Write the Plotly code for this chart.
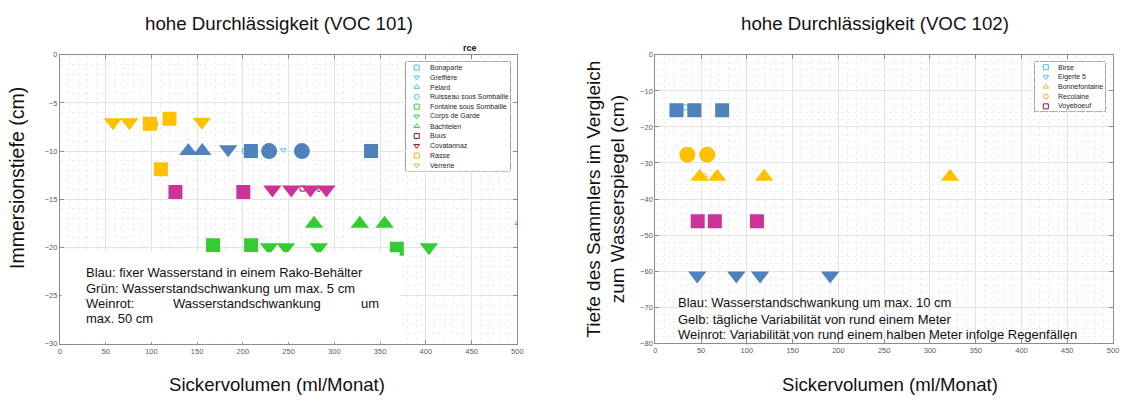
import plotly.graph_objects as go

W, H = 1126, 401
FONT = "Liberation Sans, Arial, sans-serif"

# ---------------- data: left chart (VOC 101) ----------------
L_blue_sq_x = [208.8, 340.1];            L_blue_sq_y = [-10.0, -10.0]
L_blue_circ_x = [228.7, 264.5];          L_blue_circ_y = [-10.0, -10.0]
L_blue_tup_x = [140.4, 155.6];           L_blue_tup_y = [-10.0, -10.0]
L_blue_tdn_x = [183.9];                  L_blue_tdn_y = [-9.8]
L_yel_sq_x = [98.4, 119.8, 110.4];       L_yel_sq_y = [-7.15, -6.65, -11.9]
L_yel_tdn_x = [58.0, 76.0, 155.2];       L_yel_tdn_y = [-7.0, -7.0, -6.95]
L_mag_sq_x = [126.3, 200.5];             L_mag_sq_y = [-14.25, -14.25]
L_mag_tdn_x = [232.3, 252.9, 273.9, 291.3]; L_mag_tdn_y = [-14.0, -14.0, -14.0, -14.0]
L_grn_sq_x = [167.4, 209.0, 368.3];      L_grn_sq_y = [-19.8, -19.8, -20.15]
L_grn_tup_x = [277.8, 327.8, 354.9];     L_grn_tup_y = [-17.55, -17.55, -17.55]
L_grn_tdn_x = [228.7, 247.0, 283.0, 403.4]; L_grn_tdn_y = [-20.0, -20.0, -20.0, -20.0]

L_names = ["Bonaparte", "Greffière", "Pélard", "Ruisseau sous Sombaille",
           "Fontaine sous Sombaille", "Corps de Garde", "Bachtelen", "Buus",
           "Covatannaz", "Rasse", "Verrerie"]
L_series_x = [
    [202.6, 208.8, 340.1],
    [244.2, 183.9],
    [140.4, 155.6],
    [228.7, 264.5],
    [167.4, 209.0, 368.3],
    [228.7, 247.0, 283.0, 403.4],
    [277.8, 327.8, 354.9, 500.5],
    [126.3, 200.5, 265.2],
    [232.3, 252.9, 273.9, 283.0, 291.3],
    [98.4, 104.0, 119.8, 110.4],
    [58.0, 76.0, 155.2],
]
L_series_y = [
    [-10.0, -10.0, -10.0],
    [-9.9, -9.8],
    [-10.0, -10.0],
    [-10.0, -10.0],
    [-19.8, -19.8, -20.15],
    [-20.0, -20.0, -20.0, -20.0],
    [-17.55, -17.55, -17.55, -17.5],
    [-14.25, -14.25, -13.9],
    [-14.0, -14.0, -14.0, -14.0, -14.0],
    [-7.15, -7.15, -6.65, -11.9],
    [-7.0, -7.0, -6.95],
]

# ---------------- data: right chart (VOC 102) ----------------
R_blue_sq_x = [23.1, 42.6, 73.0];        R_blue_sq_y = [-15.4, -15.4, -15.4]
R_yel_circ_x = [35.0, 56.7];             R_yel_circ_y = [-27.7, -27.7]
R_yel_tup_x = [48.4, 67.6, 119.0, 322.0]; R_yel_tup_y = [-33.8, -33.8, -33.8, -33.8]
R_mag_sq_x = [46.3, 65.0, 111.0];        R_mag_sq_y = [-46.2, -46.2, -46.2]
R_blue_tdn_x = [45.8, 88.5, 114.5, 191.0]; R_blue_tdn_y = [-61.2, -61.2, -61.2, -61.2]

R_names = ["Birse", "Eigerte 5", "Bonnefontaine", "Recolaine", "Voyeboeuf"]
R_series_x = [
    [32.9, 23.1, 42.6, 73.0],
    [45.8, 88.5, 114.5, 191.0],
    [48.4, 54.0, 67.6, 119.0, 322.0],
    [35.0, 56.7],
    [46.3, 65.0, 111.0],
]
R_series_y = [
    [-14.6, -15.4, -15.4, -15.4],
    [-61.2, -61.2, -61.2, -61.2],
    [-33.8, -33.5, -33.8, -33.8, -33.8],
    [-27.7, -27.7],
    [-46.2, -46.2, -46.2],
]

# ---------------- styles ----------------
LB, GR, RD, OR = "#4DBEEE", "#3ACC3A", "#A2142F", "#EDB120"
L_sym = ["square-open", "triangle-down-open", "triangle-up-open", "circle-open",
         "square-open", "triangle-down-open", "triangle-up-open", "square-open",
         "triangle-down-open", "square-open", "triangle-down-open"]
L_col = [LB, LB, LB, LB, GR, GR, GR, RD, RD, OR, OR]
R_sym = ["square-open", "triangle-down-open", "triangle-up-open", "circle-open", "square-open"]
R_col = [LB, LB, OR, OR, RD]

BLUE, YEL, MAG, GRN = "#4F81BD", "#FFC000", "#CC3399", "#33CC33"

fig = go.Figure()

def hollow(xs, ys, sym, col, xa, ya):
    fig.add_trace(go.Scatter(x=xs, y=ys, mode="markers", xaxis=xa, yaxis=ya,
                             marker=dict(symbol=sym, size=5, color=col, line=dict(width=1)),
                             showlegend=False, hoverinfo="skip"))

def filled(xs, ys, sym, col, size, xa, ya):
    fig.add_trace(go.Scatter(x=xs, y=ys, mode="markers", xaxis=xa, yaxis=ya,
                             marker=dict(symbol=sym, size=size, color=col, line=dict(width=0)),
                             showlegend=False))

for xs, ys, s, c in zip(L_series_x, L_series_y, L_sym, L_col):
    hollow(xs, ys, s, c, "x", "y")
for xs, ys, s, c in zip(R_series_x, R_series_y, R_sym, R_col):
    hollow(xs, ys, s, c, "x2", "y2")

SQ, CI, TR = 14, 16, 16
filled(L_yel_tdn_x, L_yel_tdn_y, "triangle-down", YEL, TR, "x", "y")
filled(L_yel_sq_x, L_yel_sq_y, "square", YEL, SQ, "x", "y")
filled(L_blue_tup_x, L_blue_tup_y, "triangle-up", BLUE, TR, "x", "y")
filled(L_blue_tdn_x, L_blue_tdn_y, "triangle-down", BLUE, TR, "x", "y")
filled(L_blue_sq_x, L_blue_sq_y, "square", BLUE, SQ, "x", "y")
filled(L_blue_circ_x, L_blue_circ_y, "circle", BLUE, CI, "x", "y")
filled(L_mag_sq_x, L_mag_sq_y, "square", MAG, SQ, "x", "y")
filled(L_mag_tdn_x, L_mag_tdn_y, "triangle-down", MAG, TR, "x", "y")
filled(L_grn_tup_x, L_grn_tup_y, "triangle-up", GRN, TR, "x", "y")
filled(L_grn_sq_x, L_grn_sq_y, "square", GRN, SQ, "x", "y")
filled(L_grn_tdn_x, L_grn_tdn_y, "triangle-down", GRN, TR, "x", "y")

filled(R_blue_sq_x, R_blue_sq_y, "square", BLUE, SQ, "x2", "y2")
filled(R_yel_circ_x, R_yel_circ_y, "circle", YEL, CI, "x2", "y2")
filled(R_yel_tup_x, R_yel_tup_y, "triangle-up", YEL, TR, "x2", "y2")
filled(R_mag_sq_x, R_mag_sq_y, "square", MAG, SQ, "x2", "y2")
filled(R_blue_tdn_x, R_blue_tdn_y, "triangle-down", BLUE, TR, "x2", "y2")

# ---------------- manual legends (rows = index) ----------------
fig.add_trace(go.Scatter(x=[0] * len(L_names), y=list(range(len(L_names))), mode="markers",
                         xaxis="x3", yaxis="y3", showlegend=False, hoverinfo="skip",
                         marker=dict(symbol=L_sym, size=5, color=L_col, line=dict(width=1))))
fig.add_trace(go.Scatter(x=[0] * len(R_names), y=list(range(len(R_names))), mode="markers",
                         xaxis="x4", yaxis="y4", showlegend=False, hoverinfo="skip",
                         marker=dict(symbol=R_sym, size=5, color=R_col, line=dict(width=1))))

def px_x(p):
    return p / W

def px_y(p):
    return 1 - p / H

AX = dict(showline=True, linecolor="#8c8c8c", linewidth=1, mirror="ticks",
          ticks="inside", ticklen=4, tickcolor="#8c8c8c", zeroline=False,
          showgrid=True, gridcolor="#e4e4e4", gridwidth=1,
          tickfont=dict(size=7.5, color="#5a5a5a", family=FONT))

def minor(d):
    return dict(dtick=d, showgrid=True, gridcolor="#efefef", griddash="dot", ticks="")

L_box = (58.3, 519.0, 52.0, 347.3)
R_box = (658.0, 1119.0, 52.0, 347.0)

layout = dict(
    width=W, height=H, margin=dict(l=0, r=0, t=0, b=0),
    paper_bgcolor="white", plot_bgcolor="white", showlegend=False,
    font=dict(family=FONT, color="#262626"),
    xaxis=dict(AX, domain=[px_x(L_box[0]), px_x(L_box[1])], range=[0, 500],
               tick0=0, dtick=50, minor=minor(10), anchor="y"),
    yaxis=dict(AX, domain=[px_y(L_box[3]), px_y(L_box[2])], range=[-30, 0],
               tick0=0, dtick=5, minor=minor(1), anchor="x"),
    xaxis2=dict(AX, domain=[px_x(R_box[0]), px_x(R_box[1])], range=[0, 500],
                tick0=0, dtick=50, minor=minor(10), anchor="y2"),
    yaxis2=dict(AX, domain=[px_y(R_box[3]), px_y(R_box[2])], range=[-80, 0],
                tick0=0, dtick=10, minor=minor(2), anchor="x2"),
)

# legend boxes (pixel geometry of the boxes; rows are placed by index)
LLEG = dict(x0=406.7, x1=512.0, y0=59.3, y1=170.7, mx=417.7, tx=428.7, first=65.0, step=10.0, n=len(L_names))
RLEG = dict(x0=1040.0, x1=1111.0, y0=59.3, y1=110.0, mx=1051.3, tx=1062.0, first=64.7, step=10.0, n=len(R_names))

def legend_axes(L, xn, yn):
    layout["xaxis" + xn] = dict(domain=[px_x(L["x0"]), px_x(L["x1"])],
                                range=[L["x0"] - L["mx"], L["x1"] - L["mx"]],
                                visible=False, anchor="y" + yn, fixedrange=True)
    layout["yaxis" + yn] = dict(domain=[px_y(L["y1"]), px_y(L["y0"])],
                                range=[(L["y1"] - L["first"]) / L["step"], (L["y0"] - L["first"]) / L["step"]],
                                visible=False, anchor="x" + xn, fixedrange=True)

legend_axes(LLEG, "3", "3")
legend_axes(RLEG, "4", "4")

shapes = []
for L in (LLEG, RLEG):
    shapes.append(dict(type="rect", xref="paper", yref="paper",
                       x0=px_x(L["x0"]), x1=px_x(L["x1"]), y0=px_y(L["y1"]), y1=px_y(L["y0"]),
                       line=dict(color="#555555", width=1), fillcolor="rgba(255,255,255,0)", layer="below"))
# white text panel in the left chart (covers grid and markers)
shapes.append(dict(type="rect", xref="paper", yref="paper",
                   x0=px_x(60), x1=px_x(400.5), y0=px_y(346), y1=px_y(254),
                   line=dict(width=0), fillcolor="white", layer="above"))

annotations = []

def txt(text, x, y, size, xanchor="center", color="#262626", angle=0, bold=False):
    annotations.append(dict(text=("<b>%s</b>" % text) if bold else text,
                            x=px_x(x), y=px_y(y), xref="paper", yref="paper",
                            xanchor=xanchor, yanchor="middle", showarrow=False,
                            textangle=angle, font=dict(size=size, color=color, family=FONT)))

for i, nm in enumerate(L_names):
    annotations.append(dict(text=nm, x=LLEG["tx"] - LLEG["mx"], y=i, xref="x3", yref="y3",
                            xanchor="left", yanchor="middle", showarrow=False,
                            font=dict(size=7, color="#262626", family=FONT)))
for i, nm in enumerate(R_names):
    annotations.append(dict(text=nm, x=RLEG["tx"] - RLEG["mx"], y=i, xref="x4", yref="y4",
                            xanchor="left", yanchor="middle", showarrow=False,
                            font=dict(size=7, color="#262626", family=FONT)))

# titles and axis labels
txt("hohe Durchlässigkeit (VOC 101)", 279, 20, 18.7, color="#111111")
txt("hohe Durchlässigkeit (VOC 102)", 879, 20, 18.7, color="#111111")
txt("Sickervolumen (ml/Monat)", 277, 389, 18.6, color="#111111")
txt("Sickervolumen (ml/Monat)", 894, 389, 18.6, color="#111111")
txt("Immersionstiefe (cm)", 15, 178, 19.5, angle=-90, color="#111111")
txt("Tiefe des Sammlers im Vergleich<br>zum Wasserspiegel (cm)", 607.5, 200, 19, angle=-90, color="#111111")
txt("rce", 471, 44.5, 9, bold=True, color="#111111")

# note texts
txt("Blau: fixer Wasserstand in einem Rako-Behälter", 82.3, 274.3, 13, xanchor="left", color="#111111")
txt("Grün: Wasserstandschwankung um max. 5 cm", 82.3, 290.7, 13, xanchor="left", color="#111111")
txt("Weinrot:", 82.3, 306.7, 13, xanchor="left", color="#111111")
txt("Wasserstandschwankung", 170.0, 306.7, 13, xanchor="left", color="#111111")
txt("um", 359.3, 306.7, 13, xanchor="left", color="#111111")
txt("max. 50 cm", 82.3, 321.7, 13, xanchor="left", color="#111111")

txt("Blau: Wasserstandschwankung um max. 10 cm", 679.3, 305, 13, xanchor="left", color="#111111")
txt("Gelb: tägliche Variabilität von rund einem Meter", 679.3, 322.3, 13, xanchor="left", color="#111111")
txt("Weinrot: Variabilität von rund einem halben Meter infolge Regenfällen", 679.3, 338.4, 13, xanchor="left", color="#111111")

layout["shapes"] = shapes
layout["annotations"] = annotations
fig.update_layout(**layout)

fig.write_html("out.html", config={"displayModeBar": False},
               post_script="document.body.style.margin='0px';document.body.style.padding='0px';")
